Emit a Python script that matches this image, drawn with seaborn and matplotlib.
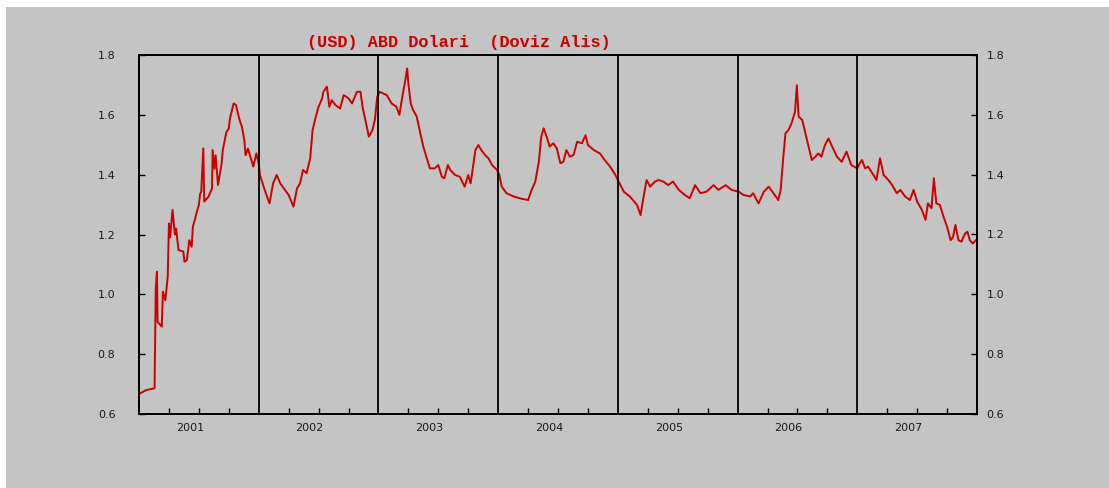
import matplotlib
matplotlib.use("Agg")
import matplotlib.pyplot as plt
from matplotlib.patches import Rectangle
import pandas as pd
import seaborn as sns

# USD buying rate (decimal year, value)
years = [
    2001.01, 2001.06, 2001.13, 2001.14, 2001.15, 2001.155, 2001.19, 2001.20, 2001.22, 2001.24,
    2001.25, 2001.26, 2001.28, 2001.30, 2001.31, 2001.33, 2001.37, 2001.38, 2001.40, 2001.42,
    2001.44, 2001.45, 2001.47, 2001.48, 2001.50, 2001.51, 2001.52, 2001.537, 2001.545, 2001.58,
    2001.61, 2001.615, 2001.63, 2001.64, 2001.66, 2001.69, 2001.70, 2001.73, 2001.75, 2001.76,
    2001.79, 2001.81, 2001.84, 2001.86, 2001.88, 2001.89, 2001.91, 2001.93, 2001.955, 2001.98,
    2002.00, 2002.01, 2002.05, 2002.09, 2002.12, 2002.15, 2002.18, 2002.22, 2002.25, 2002.29,
    2002.32, 2002.345, 2002.37, 2002.40, 2002.43, 2002.45, 2002.47, 2002.50, 2002.53, 2002.54,
    2002.57, 2002.59, 2002.61, 2002.64, 2002.68, 2002.71, 2002.75, 2002.78, 2002.82, 2002.85,
    2002.87, 2002.90, 2002.92, 2002.95, 2002.97, 2002.99, 2003.01, 2003.07, 2003.11, 2003.15,
    2003.175, 2003.195, 2003.22, 2003.24, 2003.25, 2003.27, 2003.29, 2003.32, 2003.35, 2003.375,
    2003.40, 2003.43, 2003.47, 2003.50, 2003.53, 2003.55, 2003.58, 2003.60, 2003.64, 2003.68,
    2003.72, 2003.75, 2003.77, 2003.81, 2003.835, 2003.86, 2003.89, 2003.92, 2003.95, 2003.99,
    2004.01, 2004.03, 2004.07, 2004.13, 2004.18, 2004.25, 2004.28, 2004.31, 2004.34, 2004.36,
    2004.38, 2004.41, 2004.43, 2004.46, 2004.49, 2004.52, 2004.545, 2004.57, 2004.60, 2004.63,
    2004.66, 2004.70, 2004.73, 2004.75, 2004.80, 2004.85, 2004.89, 2004.935, 2004.98, 2005.00,
    2005.05, 2005.10, 2005.16, 2005.19, 2005.21, 2005.24, 2005.27, 2005.31, 2005.34, 2005.38,
    2005.42, 2005.46, 2005.51, 2005.56, 2005.60, 2005.645, 2005.69, 2005.74, 2005.80, 2005.84,
    2005.90, 2005.95, 2006.01, 2006.05, 2006.105, 2006.13, 2006.175, 2006.22, 2006.26, 2006.30,
    2006.34, 2006.36, 2006.38, 2006.40, 2006.425, 2006.45, 2006.48, 2006.495, 2006.51, 2006.54,
    2006.56, 2006.59, 2006.62, 2006.65, 2006.675, 2006.70, 2006.73, 2006.76, 2006.79, 2006.83,
    2006.87, 2006.91, 2006.95, 2007.00, 2007.02, 2007.04, 2007.065, 2007.09, 2007.135, 2007.16,
    2007.19, 2007.22, 2007.26, 2007.29, 2007.33, 2007.36, 2007.40, 2007.44, 2007.47, 2007.50,
    2007.54, 2007.57, 2007.59, 2007.62, 2007.64, 2007.66, 2007.69, 2007.72, 2007.75, 2007.78,
    2007.80, 2007.82, 2007.845, 2007.87, 2007.90, 2007.92, 2007.94, 2007.965, 2007.99,
]
rates = [
    0.669, 0.680, 0.686, 1.020, 1.076, 0.908, 0.892, 1.009, 0.980, 1.059,
    1.237, 1.190, 1.282, 1.200, 1.220, 1.148, 1.143, 1.109, 1.114, 1.181,
    1.159, 1.226, 1.254, 1.271, 1.299, 1.335, 1.343, 1.488, 1.310, 1.326,
    1.354, 1.482, 1.420, 1.465, 1.365, 1.437, 1.482, 1.543, 1.554, 1.588,
    1.638, 1.633, 1.583, 1.560, 1.515, 1.465, 1.487, 1.460, 1.427, 1.471,
    1.437, 1.399, 1.349, 1.304, 1.371, 1.399, 1.371, 1.349, 1.332, 1.293,
    1.354, 1.371, 1.416, 1.405, 1.454, 1.549, 1.583, 1.627, 1.655, 1.677,
    1.694, 1.627, 1.649, 1.633, 1.621, 1.666, 1.655, 1.638, 1.677, 1.677,
    1.621, 1.566, 1.527, 1.549, 1.583, 1.660, 1.677, 1.666, 1.638, 1.627,
    1.600, 1.649, 1.705, 1.755, 1.705, 1.638, 1.616, 1.594, 1.538, 1.494,
    1.460, 1.421, 1.421, 1.432, 1.393, 1.388, 1.432, 1.416, 1.399, 1.393,
    1.360, 1.399, 1.371, 1.482, 1.499, 1.482, 1.466, 1.454, 1.432, 1.416,
    1.399, 1.360, 1.338, 1.327, 1.321, 1.315, 1.349, 1.376, 1.443, 1.527,
    1.555, 1.521, 1.494, 1.505, 1.488, 1.438, 1.443, 1.482, 1.460, 1.466,
    1.510, 1.505, 1.532, 1.499, 1.482, 1.471, 1.449, 1.427, 1.399, 1.382,
    1.343, 1.327, 1.299, 1.265, 1.315, 1.382, 1.360, 1.377, 1.382, 1.377,
    1.365, 1.377, 1.349, 1.332, 1.321, 1.365, 1.338, 1.343, 1.365, 1.349,
    1.365, 1.349, 1.343, 1.332, 1.327, 1.338, 1.304, 1.343, 1.360, 1.338,
    1.315, 1.349, 1.449, 1.538, 1.549, 1.571, 1.610, 1.699, 1.594, 1.583,
    1.549, 1.499, 1.449, 1.460, 1.471, 1.460, 1.499, 1.521, 1.494, 1.460,
    1.443, 1.477, 1.432, 1.421, 1.438, 1.449, 1.421, 1.427, 1.399, 1.382,
    1.455, 1.399, 1.382, 1.366, 1.338, 1.349, 1.327, 1.315, 1.349, 1.310,
    1.282, 1.249, 1.304, 1.288, 1.388, 1.304, 1.299, 1.260, 1.226, 1.181,
    1.192, 1.232, 1.181, 1.176, 1.203, 1.209, 1.181, 1.170, 1.181,
]
year_labels = ["2001", "2002", "2003", "2004", "2005", "2006", "2007"]
y_ticks = [0.6, 0.8, 1.0, 1.2, 1.4, 1.6, 1.8]
title = "(USD) ABD Dolari  (Doviz Alis)"

bg = "#c4c4c4"
txt = "#1a1a1a"
df = pd.DataFrame({"yil": years, "kur": rates})

fig = plt.figure(figsize=(11.09, 4.88), dpi=100, facecolor="white")
fig.patches.append(Rectangle((6 / 1109, 0), 1, 1 - 7 / 488, transform=fig.transFigure,
                             facecolor=bg, edgecolor="none", zorder=-10))
ax = fig.add_axes([139 / 1109, 1 - 414 / 488, 838 / 1109, 359 / 488])
ax.set_facecolor(bg)

sns.lineplot(data=df, x="yil", y="kur", ax=ax, color="#cc0000", linewidth=1.4,
             estimator=None, sort=False)

start = int(year_labels[0])
end = int(year_labels[-1]) + 1
for yr in range(start + 1, end):
    ax.axvline(yr, color="black", linewidth=1.3, zorder=3)

ax.set_xlim(start, end)
ax.set_ylim(y_ticks[0], y_ticks[-1])

# quarter ticks; year labels sit a little left of mid-year, as in the original
quarters = [yr + q for yr in range(start, end) for q in (0.25, 0.5, 0.75)]
ax.xaxis.remove_overlapping_locs = False
ax.set_xticks(quarters)
ax.set_xticklabels([])
ax.set_xticks([int(l) + 0.425 for l in year_labels], minor=True)
ax.set_xticklabels(year_labels, minor=True)
ax.tick_params(axis="x", which="major", direction="in", length=4, width=1, color="black")
ax.tick_params(axis="x", which="minor", length=0, pad=6.5, labelsize=8, labelcolor=txt)

ax.set_yticks(y_ticks)
ax.set_yticklabels([f"{v:.1f}" for v in y_ticks])
ax.tick_params(axis="y", direction="in", length=4, width=1, labelsize=8,
               labelcolor=txt, pad=17)

# right-hand copy of the value axis
ax2 = ax.twinx()
ax2.set_ylim(ax.get_ylim())
ax2.set_yticks(y_ticks)
ax2.set_yticklabels([f"{v:.1f}" for v in y_ticks])
ax2.tick_params(axis="y", direction="in", length=4, width=1, labelsize=8,
                labelcolor=txt, pad=7)

ax.set_xlabel("")
ax.set_ylabel("")
for a in (ax, ax2):
    for s in a.spines.values():
        s.set_color("black")
        s.set_linewidth(1.3)

fig.text(307 / 1109, 1 - 43 / 488, title, color="#cc0000", fontsize=12.2,
         family="Liberation Mono", weight="bold", ha="left", va="center")

fig.savefig("out.png", dpi=100, facecolor=fig.get_facecolor())
